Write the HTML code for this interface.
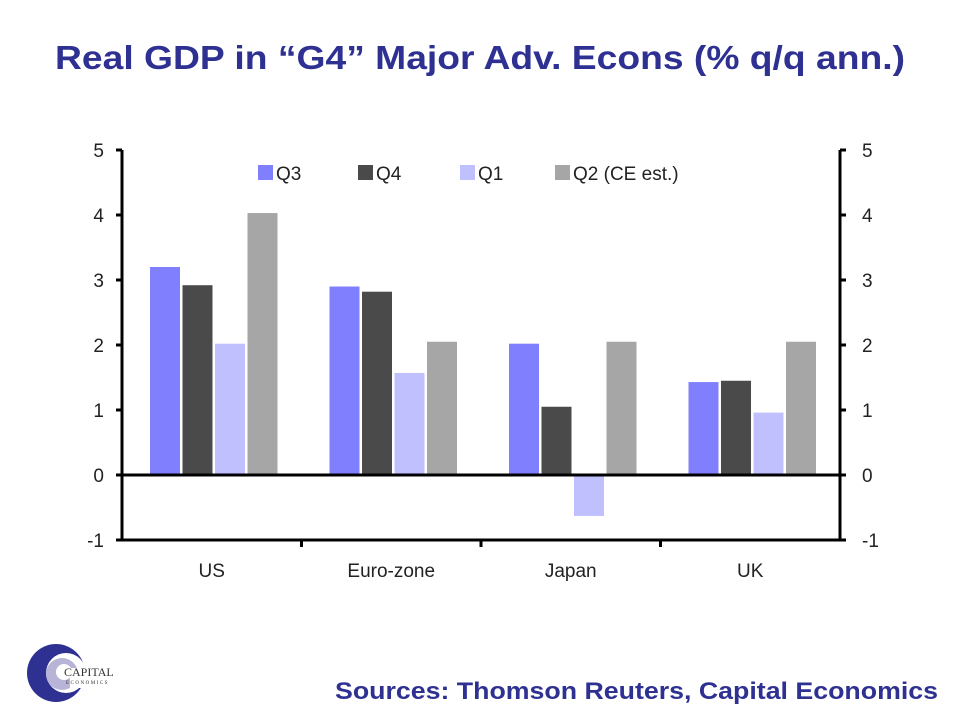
<!DOCTYPE html>
<html><head><meta charset="utf-8"><style>
body{margin:0;background:#fff;width:960px;height:720px;overflow:hidden;font-family:"Liberation Sans",sans-serif}
</style></head><body>
<svg width="960" height="720" id="svg" xmlns="http://www.w3.org/2000/svg">
<text x="55" y="69" textLength="850" lengthAdjust="spacingAndGlyphs" font-size="33" font-weight="bold" fill="#2e3192">Real GDP in “G4” Major Adv. Econs (% q/q ann.)</text>
<text x="335" y="699" textLength="603" lengthAdjust="spacingAndGlyphs" font-size="24" font-weight="bold" fill="#2e3192">Sources: Thomson Reuters, Capital Economics</text>
<g>
<circle cx="56" cy="673" r="29" fill="#2e3192"/><circle cx="66" cy="673" r="20" fill="#fff"/>
<circle cx="62" cy="674" r="16" fill="#b8b4d8"/><circle cx="64" cy="672" r="8" fill="#fff"/>
<rect x="70" y="668" width="24" height="20" fill="#fff"/>
<text x="64" y="676" font-family="Liberation Serif" font-size="12" fill="#333">CAPITAL</text>
<text x="66" y="684" font-family="Liberation Serif" font-size="5" letter-spacing="1.5" fill="#333">ECONOMICS</text>
</g>
<g id="plot"></g>
</svg>
<script>
const categories=["US","Euro-zone","Japan","UK"];
const seriesNames=["Q3","Q4","Q1","Q2 (CE est.)"];
const q3=[3.2,2.9,2.02,1.43];
const q4=[2.92,2.82,1.05,1.45];
const q1=[2.02,1.57,-0.63,0.96];
const q2=[4.03,2.05,2.05,2.05];
const yTicks=[-1,0,1,2,3,4,5];
const colors=["#8080ff","#4a4a4a","#c0c0ff","#a6a6a6"];
const NS="http://www.w3.org/2000/svg",g=document.getElementById('plot');
const L=122,R=840,yMin=-1,yMax=5,top0=150,bot=540;
const y=v=>bot-(v-yMin)/(yMax-yMin)*(bot-top0);
const gw=(R-L)/categories.length;
function mk(t,a,p){const e=document.createElementNS(NS,t);for(const k in a)e.setAttribute(k,a[k]);(p||g).appendChild(e);return e;}
const series=[q3,q4,q1,q2];
series.forEach((s,si)=>s.forEach((v,ci)=>{
 const x=L+ci*gw+28+si*32.5;
 const r=mk('rect',{x:x,y:Math.min(y(v),y(0)),width:30,height:Math.abs(y(v)-y(0)),fill:colors[si]});
 
 
}));
const ax={stroke:"#000","stroke-width":3};
let e=mk('line',Object.assign({x1:L,y1:top0,x2:L,y2:bot},ax));
e=mk('line',Object.assign({x1:R,y1:top0,x2:R,y2:bot},ax));
e=mk('line',Object.assign({x1:L,y1:y(0),x2:R,y2:y(0)},ax));
e=mk('line',Object.assign({x1:L,y1:bot,x2:R,y2:bot},ax));
yTicks.forEach(t=>{
 mk('line',Object.assign({x1:L-6,y1:y(t),x2:L,y2:y(t)},ax));
 mk('line',Object.assign({x1:R,y1:y(t),x2:R+6,y2:y(t)},ax));
 let a=mk('text',{x:104,y:y(t)+7,"text-anchor":"end","font-size":19,fill:"#222"});a.textContent=t;
 
 a=mk('text',{x:862,y:y(t)+7,"text-anchor":"start","font-size":19,fill:"#222"});a.textContent=t;
 
});
categories.forEach((c,i)=>{
 if(i>0)mk('line',Object.assign({x1:L+i*gw,y1:bot,x2:L+i*gw,y2:bot+7},ax));
 const t=mk('text',{x:L+(i+0.5)*gw,y:577,"text-anchor":"middle","font-size":19,fill:"#222"});t.textContent=c;
 
});
const lx=[258,358,460,555];
seriesNames.forEach((n,i)=>{
 const r=mk('rect',{x:lx[i],y:165,width:15,height:15,fill:colors[i]});
 
 const t=mk('text',{x:lx[i]+18,y:180,"font-size":19,fill:"#222"});t.textContent=n;
 
});
</script>
</body></html>
